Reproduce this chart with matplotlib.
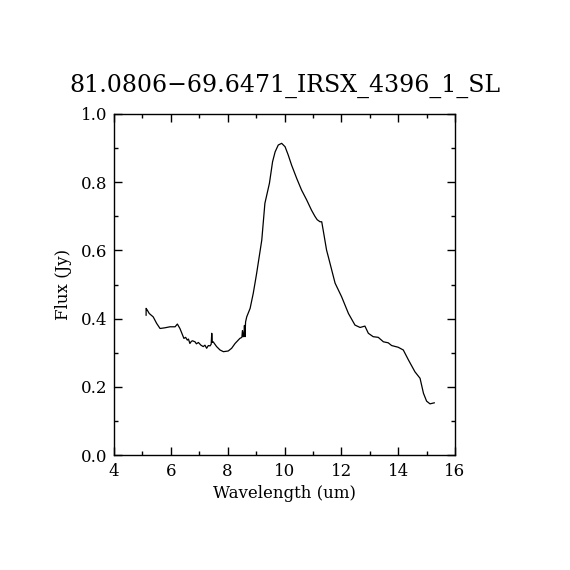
import numpy as np
import matplotlib.pyplot as plt
from matplotlib.ticker import MultipleLocator

# -- spectrum --
wave = [5.13, 5.13, 5.17, 5.24, 5.38, 5.50, 5.62, 5.79, 5.97, 6.15, 6.23, 6.32,
        6.46, 6.52, 6.58, 6.62, 6.67, 6.72, 6.76, 6.85, 6.90, 6.97, 7.06, 7.14,
        7.20, 7.26, 7.32, 7.38, 7.42, 7.44, 7.46, 7.49, 7.61, 7.73, 7.85, 8.02,
        8.14, 8.26, 8.43, 8.50, 8.52, 8.55, 8.57, 8.59, 8.61, 8.63, 8.67, 8.79,
        8.90, 8.98, 9.02, 9.20, 9.31, 9.47, 9.58, 9.67, 9.78, 9.90, 10.02, 10.13,
        10.25, 10.43, 10.60, 10.78, 10.95, 11.07, 11.15, 11.25, 11.31, 11.36,
        11.48, 11.54, 11.78, 12.01, 12.25, 12.48, 12.66, 12.83, 12.95, 13.12,
        13.30, 13.48, 13.65, 13.77, 14.00, 14.18, 14.36, 14.59, 14.77, 14.89,
        15.00, 15.12, 15.27]
flux = [0.410, 0.430, 0.425, 0.415, 0.405, 0.386, 0.371, 0.373, 0.376, 0.376,
        0.384, 0.371, 0.342, 0.345, 0.337, 0.340, 0.327, 0.333, 0.335, 0.332,
        0.326, 0.330, 0.322, 0.318, 0.322, 0.313, 0.321, 0.320, 0.325, 0.357,
        0.330, 0.332, 0.318, 0.308, 0.303, 0.305, 0.313, 0.327, 0.342, 0.345,
        0.365, 0.347, 0.350, 0.380, 0.347, 0.390, 0.405, 0.430, 0.474, 0.513,
        0.533, 0.630, 0.738, 0.797, 0.860, 0.889, 0.909, 0.914, 0.904, 0.880,
        0.850, 0.811, 0.777, 0.748, 0.718, 0.700, 0.690, 0.684, 0.684, 0.660,
        0.601, 0.582, 0.504, 0.464, 0.415, 0.381, 0.374, 0.378, 0.357, 0.347,
        0.345, 0.332, 0.329, 0.321, 0.316, 0.308, 0.279, 0.244, 0.225, 0.181,
        0.158, 0.150, 0.153]

title = "81.0806\u221269.6471_IRSX_4396_1_SL"

plt.rcParams['font.family'] = ['DejaVu Serif']

fig = plt.figure(figsize=(5.7, 5.7), dpi=100)
ax = fig.add_axes([114 / 570, 115 / 570, 341 / 570, 341 / 570])

ax.plot(wave, flux, color='black', linewidth=0.9)

ax.set_xlim(4, 16)
ax.set_ylim(0, 1.0)
ax.xaxis.set_major_locator(MultipleLocator(2))
ax.xaxis.set_minor_locator(MultipleLocator(1))
ax.yaxis.set_major_locator(MultipleLocator(0.2))
ax.yaxis.set_minor_locator(MultipleLocator(0.1))
ax.yaxis.set_major_formatter(plt.FormatStrFormatter('%.1f'))
ax.tick_params(which='both', direction='in', top=True, right=True,
               labelsize=12, width=1)
ax.tick_params(axis='x', pad=6)
ax.tick_params(axis='y', pad=5)
ax.tick_params(which='major', length=6)
ax.tick_params(which='minor', length=3)
for s in ax.spines.values():
    s.set_linewidth(1)

ax.set_xlabel("Wavelength (um)", fontsize=12, labelpad=3)
ax.set_ylabel("Flux (Jy)", fontsize=12, labelpad=6)
ax.set_title(title, fontsize=17, pad=16)

fig.savefig("out.png", dpi=100)
